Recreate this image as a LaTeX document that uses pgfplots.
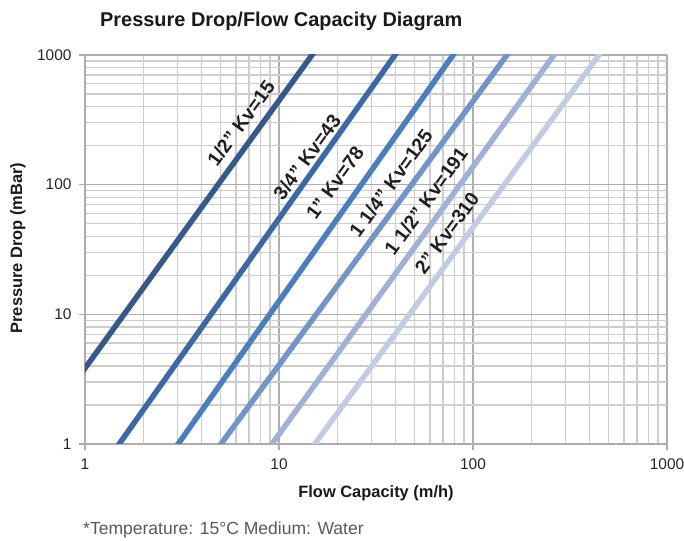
\documentclass[border=0pt]{standalone}
\usepackage{fontspec}
\setmainfont{Liberation Sans}
\usepackage{pgfplots}
\pgfplotsset{compat=1.18}
\definecolor{cA}{HTML}{34598A}
\definecolor{cB}{HTML}{3B69A6}
\definecolor{cC}{HTML}{4A7EC0}
\definecolor{cD}{HTML}{7394C8}
\definecolor{cE}{HTML}{9FB1D6}
\definecolor{cF}{HTML}{C1CCE3}
\definecolor{gmaj}{HTML}{ADADAD}
\definecolor{gmin}{HTML}{CDCDCD}
\begin{document}
\begin{tikzpicture}[x=1bp,y=1bp]
\path[use as bounding box] (-85,-97) rectangle (599,444);
\begin{axis}[
  at={(0,0)}, anchor=south west,
  scale only axis, width=582bp, height=389bp,
  xmode=log, ymode=log,
  xmin=1, xmax=1000, ymin=1, ymax=1000,
  axis lines*=left,
  axis line style={gmaj, line width=1.2bp},
  xtick={1,10,100,1000}, xticklabels={1,10,100,1000},
  ytick={1,10,100,1000}, yticklabels={1,10,100,1000},
  minor xtick={2,3,4,5,6,7,8,9,20,30,40,50,60,70,80,90,200,300,400,500,600,700,800,900},
  minor ytick={2,3,4,5,6,7,8,9,20,30,40,50,60,70,80,90,200,300,400,500,600,700,800,900},
  grid=both,
  major grid style={gmaj, line width=1.5bp},
  minor grid style={gmin, line width=1.3bp},
  tick align=outside,
  major tick length=6bp, minor tick length=0bp,
  tick style={gmaj, line width=1.2bp},
  tick label style={font=\fontsize{15.5}{15.5}\selectfont, text=black!85},
  xticklabel style={yshift=-5bp},
  yticklabel style={xshift=-4bp},
  clip=true,
]
\addplot[cA, line width=5.5bp] coordinates {(0.891,3.03) (1,3.84) (14.8,1000) (16.6,1268)};
\addplot[cB, line width=5.5bp] coordinates {(1.337,0.784) (1.5,1) (39.6,1000) (44.4,1275)};
\addplot[cC, line width=5.5bp] coordinates {(2.69,0.783) (3.02,1) (78.9,1000) (88.5,1277)};
\addplot[cD, line width=5.5bp] coordinates {(4.47,0.79) (5.02,1) (149.7,1000) (168,1264)};
\addplot[cE, line width=5.5bp] coordinates {(8.2,0.789) (9.2,1) (261.5,1000) (293,1268)};
\addplot[cF, line width=5.5bp] coordinates {(13.6,0.789) (15.3,1) (446,1000) (500,1266)};
\end{axis}
\begin{scope}[every node/.style={font=\fontsize{19.5}{19.5}\selectfont\bfseries, text=black!88, rotate=54, inner sep=0pt}]
\node at (156,321) {1/2” Kv=15};
\node at (222,287) {3/4” Kv=43};
\node at (250,261) {1” Kv=78};
\node at (306,261) {1 1/4” Kv=125};
\node at (341,243) {1 1/2” Kv=191};
\node at (362,211) {2” Kv=310};
\end{scope}
\node[anchor=west, inner sep=0pt, font=\fontsize{20}{20}\selectfont\bfseries, text=black!90] at (15,423) {Pressure Drop/Flow Capacity Diagram};
\node[rotate=90, inner sep=0pt, font=\fontsize{16.5}{16.5}\selectfont\bfseries, text=black!90] at (-67,196) {Pressure Drop (mBar)};
\node[inner sep=0pt, font=\fontsize{16.5}{16.5}\selectfont\bfseries, text=black!90] at (291,-49) {Flow Capacity (m/h)};
\node[anchor=west, inner sep=0pt, font=\fontsize{17.6}{17.6}\selectfont, text=black!65] at (-2,-86) {*Temperature: 15°C Medium: Water};
\end{tikzpicture}
\end{document}
